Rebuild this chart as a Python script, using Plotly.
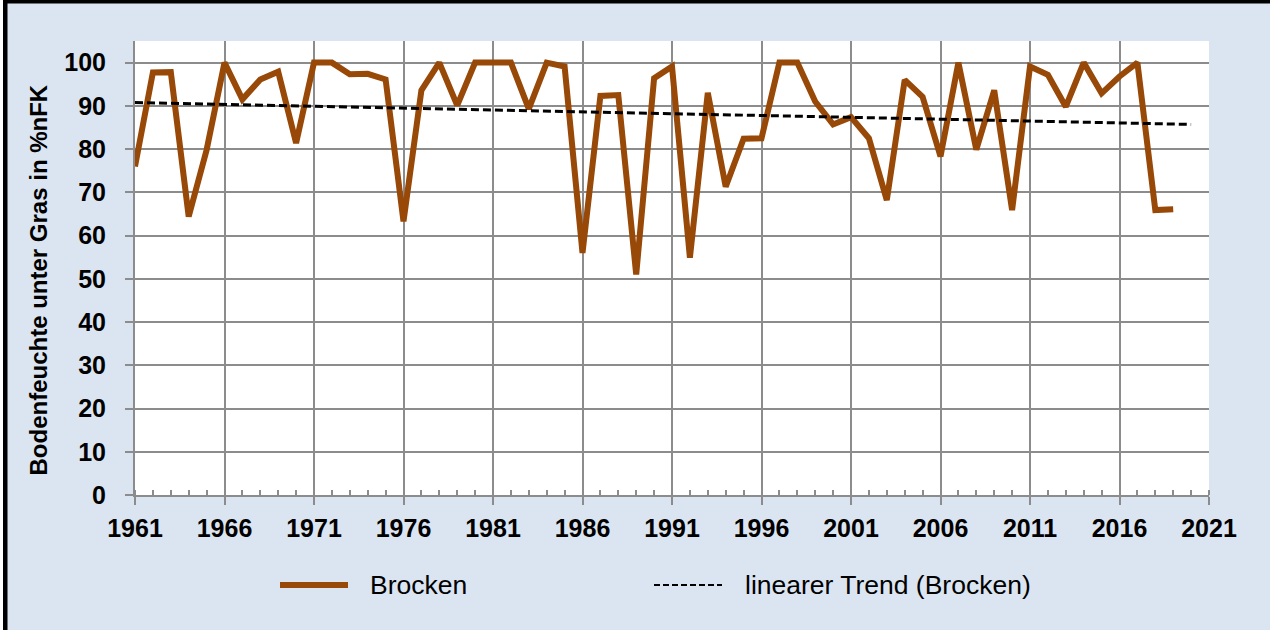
import numpy as np
import plotly.graph_objects as go

# ---------------- data ----------------
years = list(range(1961, 2020))
brocken = [
    76.0, 97.7, 97.8, 64.4, 79.8, 100.0, 91.5, 96.1, 97.9, 81.4,   # 1961-1970
    100.0, 100.0, 97.3, 97.4, 96.1, 63.3, 93.6, 100.0, 90.1, 100.0, # 1971-1980
    100.0, 100.0, 89.3, 100.0, 99.1, 56.0, 92.3, 92.5, 51.0, 96.4,  # 1981-1990
    99.1, 54.9, 93.0, 71.3, 82.4, 82.5, 100.0, 100.0, 91.0, 85.7,   # 1991-2000
    87.4, 82.5, 68.2, 96.0, 92.1, 78.3, 100.0, 79.9, 93.6, 65.9,    # 2001-2010
    99.1, 97.2, 89.8, 100.0, 92.9, 96.8, 100.0, 65.9, 66.1          # 2011-2019
]
x_ticks = list(range(1961, 2022, 5))
y_ticks = list(range(0, 101, 10))
series_name = "Brocken"
trend_name = "linearer Trend (Brocken)"
y_title = "Bodenfeuchte unter Gras in %nFK"

# linear trend (least squares), extended one period forward
coef = np.polyfit(years, brocken, 1)
trend_x = [years[0], years[-1] + 1]
trend_y = list(np.polyval(coef, trend_x))

# ---------------- layout helpers ----------------
W, H = 1274, 630
L, R, T, B = 135, 1209, 41, 495  # plot area in pixels


def px(xp):
    return (xp - L) / (R - L)


def py(yp):
    return (B - yp) / (B - T)


BROWN = "#984807"
GRID = "#8c8c8c"
BG = "#dbe5f1"
FONT = "Liberation Sans, Arial, sans-serif"

fig = go.Figure()
fig.add_trace(go.Scatter(
    x=years, y=brocken, mode="lines", name=series_name,
    line=dict(color=BROWN, width=6), showlegend=False,
))
fig.add_trace(go.Scatter(
    x=trend_x, y=trend_y, mode="lines", name=trend_name,
    line=dict(color="black", width=3, dash="8px,4px"), showlegend=False,
))

shapes = []
# outer border pieces (chart frame is cropped on the right/bottom)
shapes.append(dict(type="rect", xref="paper", yref="paper", x0=px(-5), x1=px(3),
                   y0=py(-5), y1=py(640), fillcolor="white", line_width=0, layer="below"))
shapes.append(dict(type="rect", xref="paper", yref="paper", x0=px(1270), x1=px(1280),
                   y0=py(-5), y1=py(640), fillcolor="white", line_width=0, layer="below"))
shapes.append(dict(type="rect", xref="paper", yref="paper", x0=px(3), x1=px(1270),
                   y0=py(-5), y1=py(3.5), fillcolor="black", line_width=0, layer="below"))
shapes.append(dict(type="rect", xref="paper", yref="paper", x0=px(3), x1=px(7.5),
                   y0=py(-5), y1=py(640), fillcolor="black", line_width=0, layer="below"))
# manual legend samples
leg_y = py(585)
shapes.append(dict(type="line", xref="paper", yref="paper", x0=px(280), x1=px(348),
                   y0=leg_y, y1=leg_y, line=dict(color=BROWN, width=6)))
shapes.append(dict(type="line", xref="paper", yref="paper", x0=px(654), x1=px(722),
                   y0=leg_y, y1=leg_y, line=dict(color="black", width=2, dash="6px,3px")))

annotations = [
    dict(text=series_name, xref="paper", yref="paper", x=px(368), y=leg_y,
         xanchor="left", yanchor="middle", showarrow=False,
         font=dict(family=FONT, size=26.5, color="black")),
    dict(text=trend_name, xref="paper", yref="paper", x=px(743), y=leg_y,
         xanchor="left", yanchor="middle", showarrow=False,
         font=dict(family=FONT, size=26.5, color="black")),
    dict(text="<b>" + y_title + "</b>", xref="paper", yref="paper", x=px(37.5), y=py(280),
         xanchor="center", yanchor="middle", textangle=-90, showarrow=False,
         font=dict(family=FONT, size=24, color="black")),
]

fig.update_layout(
    width=W, height=H,
    margin=dict(l=L, r=W - R, t=T, b=H - B, pad=0),
    paper_bgcolor=BG, plot_bgcolor="white",
    font=dict(family=FONT, color="black"),
    shapes=shapes, annotations=annotations,
    showlegend=False,
)
fig.update_xaxes(
    range=[1961, 2021], tickmode="array", tickvals=x_ticks,
    ticktext=[str(v) for v in x_ticks],
    showgrid=True, gridcolor=GRID, gridwidth=2,
    showline=True, linecolor=GRID, linewidth=2,
    ticks="outside", ticklen=8, tickwidth=2, tickcolor=GRID,
    tickfont=dict(family=FONT, size=25, color="black", weight="bold"),
    ticklabelstandoff=2,
    minor=dict(ticks="inside", ticklen=5, tickwidth=2, tickcolor=GRID,
               tick0=1961, dtick=1, showgrid=False),
    zeroline=False, fixedrange=True,
)
fig.update_yaxes(
    range=[0, 105], tickmode="array", tickvals=y_ticks,
    ticktext=[str(v) for v in y_ticks],
    showgrid=True, gridcolor=GRID, gridwidth=2,
    showline=True, linecolor=GRID, linewidth=2,
    ticks="outside", ticklen=8, tickwidth=2, tickcolor=GRID,
    tickfont=dict(family=FONT, size=25, color="black", weight="bold"),
    ticklabelstandoff=14,
    zeroline=False, fixedrange=True,
)

fig.write_html(
    "out.html",
    config={"displayModeBar": False},
    post_script="document.body.style.margin='0px';document.body.style.overflow='hidden';",
)
